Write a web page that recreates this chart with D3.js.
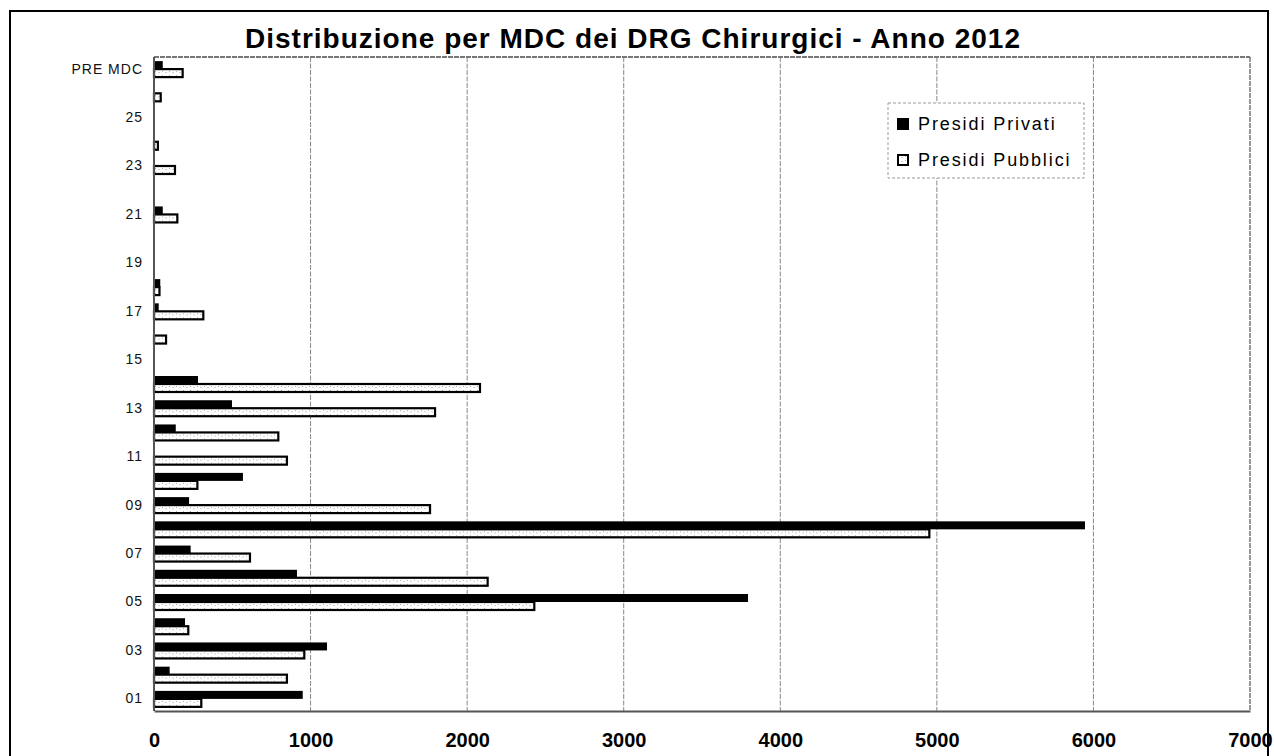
<!DOCTYPE html>
<html>
<head>
<meta charset="UTF-8">
<style>
  body { margin: 0; background: #fff; }
  svg { display: block; font-family: Arial, "Liberation Sans", sans-serif; }
</style>
</head>
<body>
<svg width="1274" height="756"></svg>
<script src="https://cdn.jsdelivr.net/npm/d3@7/dist/d3.min.js"></script>
<script>

// MDC categories, bottom to top ("ND" is an unlabelled slot between 25 and PRE MDC)
var categories = ["01","02","03","04","05","06","07","08","09","10","11","12","13",
  "14","15","16","17","18","19","20","21","22","23","24","25","ND","PRE MDC"];
var tickLabels = ["01","03","05","07","09","11","13","15","17","19","21","23","25","PRE MDC"];
var seriesNames = ["Presidi Privati", "Presidi Pubblici"];
var privati = [950,100,1105,198,3794,913,234,5946,224,568,0,139,498,
  281,0,0,30,40,0,0,56,0,0,0,0,0,56];
var pubblici = [302,849,960,219,2429,2131,613,4952,1763,277,849,794,1795,
  2082,0,77,315,35,0,0,149,0,134,25,0,43,183];
var xTicks = [0,1000,2000,3000,4000,5000,6000,7000];

var svg = d3.select("svg"),
  margin = {top: 57, right: 24, bottom: 45, left: 154},
  width = 1250 - margin.left,
  height = 711 - margin.top;

var defs = svg.append("defs");
var pat = defs.append("pattern")
  .attr("id", "speck")
  .attr("patternUnits", "userSpaceOnUse")
  .attr("width", 7).attr("height", 4);
pat.append("rect").attr("width", 7).attr("height", 4).attr("fill", "#fff");
pat.append("rect").attr("x", 1).attr("y", 2).attr("width", 1).attr("height", 1).attr("fill", "#aaa");
pat.append("rect").attr("x", 4).attr("y", 3).attr("width", 2).attr("height", 1).attr("fill", "#ccc");

// outer frame
svg.append("rect")
  .attr("x", 10).attr("y", 11)
  .attr("width", 1258).attr("height", 780)
  .attr("fill", "none")
  .attr("stroke", "#000")
  .attr("stroke-width", 2);

svg.append("text")
  .attr("x", 633)
  .attr("y", 48)
  .attr("text-anchor", "middle")
  .attr("font-size", 28)
  .attr("font-weight", "bold")
  .attr("letter-spacing", 1)
  .text("Distribuzione per MDC dei DRG Chirurgici - Anno 2012");

var g = svg.append("g").attr("transform", "translate(" + margin.left + "," + margin.top + ")");

var x = d3.scaleLinear()
  .domain([0, 7000])
  .range([0, width]);

var y = d3.scaleBand()
  .domain(categories.slice().reverse())
  .range([0, height])
  .paddingInner(0.34)
  .paddingOuter(0.17);

var ySub = d3.scaleBand()
  .domain(seriesNames)
  .range([0, y.bandwidth()]);

// gridlines
g.append("g")
  .selectAll("line")
  .data(xTicks.filter(function(d) { return d > 0 && d < 7000; }))
  .enter().append("line")
    .attr("x1", function(d) { return x(d); })
    .attr("x2", function(d) { return x(d); })
    .attr("y1", 0)
    .attr("y2", height)
    .attr("stroke", "#888")
    .attr("stroke-dasharray", "5,1.5");

// plot border top / right
g.append("line")
  .attr("x1", 0).attr("x2", width).attr("y1", 0).attr("y2", 0)
  .attr("stroke", "#777").attr("stroke-width", 2).attr("stroke-dasharray", "5,1");
g.append("line")
  .attr("x1", width).attr("x2", width).attr("y1", 0).attr("y2", height)
  .attr("stroke", "#777").attr("stroke-width", 1.5).attr("stroke-dasharray", "5,1");

var rows = categories.map(function(c, i) {
  return {cat: c, values: [privati[i], pubblici[i]]};
});

var grp = g.selectAll(".cat")
  .data(rows)
  .enter().append("g")
    .attr("transform", function(d) { return "translate(0," + y(d.cat) + ")"; });

grp.selectAll("rect")
  .data(function(d) {
    return d.values.map(function(v, j) { return {key: seriesNames[j], value: v}; })
      .filter(function(e) { return e.value > 0; });
  })
  .enter().append("rect")
    .attr("x", x(0))
    .attr("y", function(d) { return ySub(d.key); })
    .attr("width", function(d) { return x(d.value) - x(0); })
    .attr("height", ySub.bandwidth())
    .attr("fill", function(d) { return d.key === seriesNames[0] ? "#000" : "url(#speck)"; })
    .attr("stroke", "#000")
    .attr("stroke-width", function(d) { return d.key === seriesNames[0] ? 0 : 2.2; });

// y axis
var yAxis = g.append("g")
  .call(d3.axisLeft(y).tickValues(tickLabels).tickSize(0).tickPadding(11));
yAxis.select(".domain").remove();
yAxis.selectAll("text")
  .attr("font-size", 14)
  .attr("letter-spacing", 1)
  .attr("fill", "#111")
  .style("font-family", "Arial, 'Liberation Sans', sans-serif");

g.append("line")
  .attr("x1", 0).attr("x2", 0).attr("y1", 0).attr("y2", height)
  .attr("stroke", "#555").attr("stroke-width", 2);

// x axis
var xAxis = g.append("g")
  .attr("transform", "translate(0," + height + ")")
  .call(d3.axisBottom(x).tickValues(xTicks).tickSize(0).tickPadding(22).tickFormat(d3.format("d")));
xAxis.select(".domain")
  .attr("stroke", "#555").attr("stroke-width", 2);
xAxis.selectAll("text")
  .attr("font-size", 20)
  .attr("font-weight", "bold")
  .attr("fill", "#000")
  .style("font-family", "Arial, 'Liberation Sans', sans-serif");

// legend
var legend = svg.append("g").attr("transform", "translate(888,103)");
legend.append("rect")
  .attr("width", 196).attr("height", 75)
  .attr("fill", "#fff")
  .attr("stroke", "#999")
  .attr("stroke-dasharray", "3,2");
var items = legend.selectAll(".item")
  .data(seriesNames)
  .enter().append("g")
    .attr("transform", function(d, i) { return "translate(9," + (15 + i * 36) + ")"; });
items.append("rect")
  .attr("x", function(d, i) { return i ? 1 : 0; })
  .attr("y", function(d, i) { return i ? 1 : 0; })
  .attr("width", function(d, i) { return i ? 10 : 12; })
  .attr("height", function(d, i) { return i ? 10 : 12; })
  .attr("fill", function(d, i) { return i ? "url(#speck)" : "#000"; })
  .attr("stroke", "#000")
  .attr("stroke-width", function(d, i) { return i ? 2 : 0; });
items.append("text")
  .attr("x", 21)
  .attr("y", 12)
  .attr("font-size", 18)
  .attr("letter-spacing", 1.9)
  .text(function(d) { return d; });

</script>
</body>
</html>
